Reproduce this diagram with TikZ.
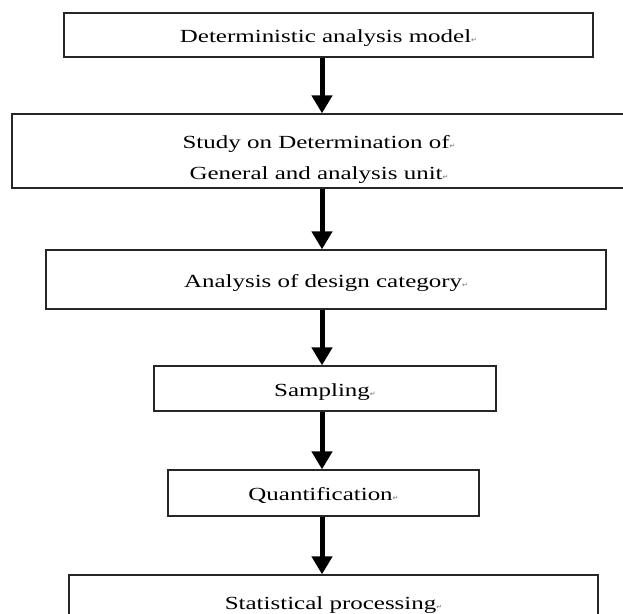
\documentclass[tikz,border=0pt]{standalone}
\usepackage{fontspec}
\setmainfont{Liberation Serif}[FakeStretch=1.35]
\newfontfamily\symfont{DejaVu Sans}
\usetikzlibrary{arrows.meta}
\newcommand{\pmark}{{\symfont\fontsize{7}{7}\selectfont\color{black!55}↵}}
\tikzset{
  caja/.style={draw=black!85, line width=1.3pt, inner sep=0pt, align=center,
    text height=15pt, text depth=0pt, font=\fontsize{18.5}{31}\selectfont},
  flecha/.style={line width=5pt, -{Triangle[width=20pt,length=18pt]}}
}

\begin{document}
\begin{tikzpicture}[x=1pt,y=1pt]
	\useasboundingbox (0,0) rectangle (623,-613);
	% Cajas del proceso
	\node[caja, minimum width=529pt, minimum height=44pt] (modelo) at (328.5,-35) {Deterministic analysis model\pmark};
	\node[caja, minimum width=614pt, minimum height=74pt, text height=57pt] (unidad) at (319,-151) {Study on Determination of\pmark\\General and analysis unit\pmark};
	\node[caja, minimum width=560pt, minimum height=59pt] (diseno) at (326,-279.5) {Analysis of design category\pmark};
	\node[caja, minimum width=342pt, minimum height=45pt] (muestra) at (325,-388.5) {Sampling\pmark};
	\node[caja, minimum width=311pt, minimum height=46pt] (cuanti) at (323.5,-493) {Quantification\pmark};
	\node[caja, minimum width=529pt, minimum height=54pt] (estad) at (333.5,-602) {Statistical processing\pmark};
	% Flechas
	\coordinate (eje) at (322,0);
	\draw[flecha] (eje |- modelo.south) -- (eje |- unidad.north);
	\draw[flecha] (eje |- unidad.south) -- (eje |- diseno.north);
	\draw[flecha] (eje |- diseno.south) -- (eje |- muestra.north);
	\draw[flecha] (eje |- muestra.south) -- (eje |- cuanti.north);
	\draw[flecha] (eje |- cuanti.south) -- (eje |- estad.north);
\end{tikzpicture}
\end{document}
